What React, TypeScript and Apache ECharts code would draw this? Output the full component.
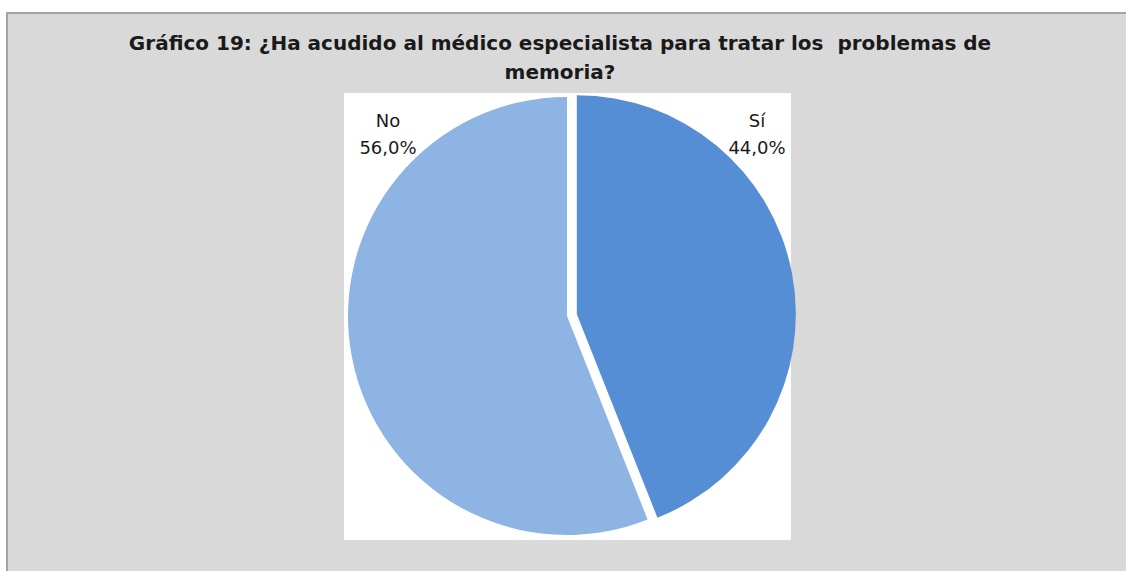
import React, { useEffect, useRef } from "react";
import * as echarts from "echarts";

const categories = ["Sí", "No"];
const values = [44.0, 56.0];
const colors = ["#558ed5", "#8eb4e3"];
const titleText = "Gráfico 19: ¿Ha acudido al médico especialista para tratar los  problemas de\nmemoria?";

export default function App() {
  const ref = useRef<HTMLDivElement>(null);
  useEffect(() => {
    if (!ref.current) return;
    const chart = echarts.init(ref.current, null, { renderer: "svg" });
    const total = values.reduce((a, b) => a + b, 0);
    const labelPos: [number, number][] = [[757, 134], [388, 134]];
    const labelTexts = categories.map(
      (c, i) => `${c}\n${((values[i] / total) * 100).toFixed(1).replace(".", ",")}%`
    );
    chart.setOption({
      animation: false,
      backgroundColor: "#ffffff",
      title: {
        text: titleText,
        left: 555,
        top: 23,
        textAlign: "center",
        textStyle: {
          fontFamily: "DejaVu Sans",
          fontWeight: "bold",
          fontSize: 20,
          lineHeight: 29,
          color: "#1a1a1a",
        },
      },
      graphic: [
        {
          type: "rect",
          z: -10,
          silent: true,
          shape: { x: 7, y: 13, width: 1130, height: 570 },
          style: { fill: "#d9d9d9", stroke: "#a3a3a3", lineWidth: 2 },
        },
        {
          type: "rect",
          z: -9,
          silent: true,
          shape: { x: 344, y: 93, width: 447, height: 447 },
          style: { fill: "#ffffff" },
        },
        ...labelTexts.map((t, i) => ({
          type: "text",
          z: 10,
          silent: true,
          x: labelPos[i][0],
          y: labelPos[i][1],
          style: {
            text: t,
            fontFamily: "DejaVu Sans",
            fontSize: 18,
            lineHeight: 27,
            fill: "#1a1a1a",
            align: "center",
            verticalAlign: "middle",
          },
        })),
      ],
      series: [
        {
          type: "pie",
          center: [567, 316],
          radius: 219,
          startAngle: 90,
          clockwise: true,
          selectedMode: "single",
          selectedOffset: 10,
          avoidLabelOverlap: false,
          itemStyle: { borderWidth: 0 },
          labelLine: { show: false },
          label: { show: false },
          emphasis: { disabled: true },
          data: categories.map((c, i) => ({
            name: c,
            value: values[i],
            selected: i === 0,
            itemStyle: { color: colors[i] },
          })),
        },
      ],
    });
    return () => chart.dispose();
  }, []);
  return (
    <div
      ref={ref}
      style={{ position: "fixed", left: 0, top: 0, width: 1126, height: 571 }}
    />
  );
}
